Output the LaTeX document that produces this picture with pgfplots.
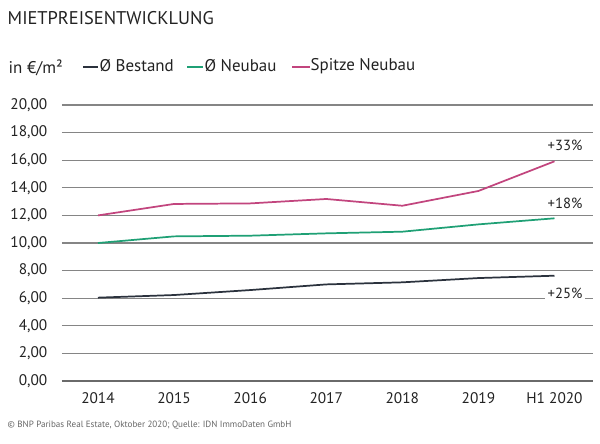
\documentclass[border=0pt]{standalone}
\usepackage{pgfplots}
\pgfplotsset{compat=1.18}
\usepackage{fontspec}
\setmainfont{PT Sans}
\definecolor{cBest}{HTML}{2B323D}
\definecolor{cNeu}{HTML}{1FA075}
\definecolor{cSpitze}{HTML}{C2457E}
\definecolor{cGrid}{HTML}{858585}
\definecolor{cText}{HTML}{222222}
\begin{document}
\begin{tikzpicture}
\begin{axis}[
  at={(46.5pt,-285.75pt)}, anchor=south west,
  scale only axis, width=398.25pt, height=207pt,
  xmin=-0.473, xmax=6.506, ymin=0, ymax=20,
  axis line style={draw=none},
  xtick={0,...,6},
  xticklabels={2014,2015,2016,2017,2018,2019,H1 2020},
  ytick={0,2,...,20},
  ymajorgrids, major grid style={cGrid, line width=0.9pt},
  major tick length=0pt,
  tick label style={font=\fontsize{11.5}{13}\selectfont, text=cText},
  yticklabel style={xshift=-7.5pt},
  xticklabel style={yshift=-5pt},
  /pgf/number format/assume math mode=true,
  yticklabel={\pgfmathprintnumber[fixed,fixed zerofill,precision=2,use comma]{\tick}},
  clip=false,
]
\draw[cGrid!80!black, line width=1.2pt] (rel axis cs:0,0) -- (rel axis cs:1,0);
\addplot[cSpitze, line width=1.3pt] coordinates {(0,12.0) (1,12.83) (2,12.87) (3,13.19) (4,12.7) (5,13.77) (6,15.92)};
\addplot[cNeu, line width=1.3pt] coordinates {(0,10.0) (1,10.48) (2,10.53) (3,10.7) (4,10.82) (5,11.35) (6,11.79)};
\addplot[cBest, line width=1.3pt] coordinates {(0,6.04) (1,6.23) (2,6.59) (3,7.0) (4,7.15) (5,7.46) (6,7.63)};
\end{axis}
\begin{scope}[x=0.75pt,y=-0.75pt]
\path[use as bounding box] (0,0) rectangle (600,443);
\node[anchor=west, font=\fontsize{13.8}{15}\selectfont, text=cText] at (3,18) {MIETPREISENTWICKLUNG};
\node[anchor=west, font=\fontsize{12.7}{14}\selectfont, text=cText] at (4,68) {in €/m²};
\draw[cBest, line width=1.3pt] (83,67) -- (98,67);
\node[anchor=west, font=\fontsize{12.7}{14}\selectfont, text=cText, inner sep=1pt] at (98,66) {Ø Bestand};
\draw[cNeu, line width=1.3pt] (187,67) -- (203,67);
\node[anchor=west, font=\fontsize{12.7}{14}\selectfont, text=cText, inner sep=1pt] at (203,66) {Ø Neubau};
\draw[cSpitze, line width=1.3pt] (292,67) -- (310,67);
\node[anchor=west, font=\fontsize{12.7}{14}\selectfont, text=cText, inner sep=1pt] at (309,66) {Spitze Neubau};
\node[font=\fontsize{11}{12}\selectfont, text=cText] at (565,145) {+33\%};
\node[font=\fontsize{11}{12}\selectfont, text=cText] at (565,203) {+18\%};
\node[font=\fontsize{11}{12}\selectfont, text=cText, fill=white, inner sep=2pt] at (565,293) {+25\%};
\node[anchor=west, font=\fontsize{6.8}{8}\selectfont, text=black!60] at (3,425) {© BNP Paribas Real Estate, Oktober 2020; Quelle: IDN ImmoDaten GmbH};
\end{scope}
\end{tikzpicture}
\end{document}
